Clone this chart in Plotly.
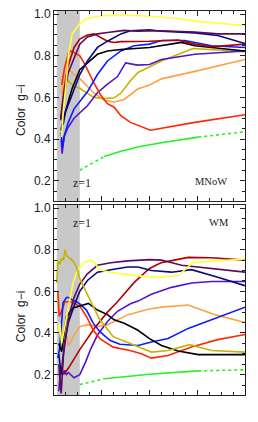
import plotly.graph_objects as go

# ---------------- data ----------------
# x axis: arbitrary time-like coordinate 0..4 (no tick labels shown)
band_x = [0.06, 0.54]  # shaded region (z > 1)

# --- top panel (MNoW) ---
t_yellow_x = [0.16, 0.2, 0.25, 0.3, 0.38, 0.54, 0.7, 1.05, 1.5, 2.0, 2.5, 3.0, 4.0]
t_yellow_y = [0.41, 0.55, 0.66, 0.80, 0.905, 0.954, 0.98, 0.993, 0.996, 0.99, 0.98, 0.965, 0.945]

t_purple_x = [0.14, 0.2, 0.3, 0.42, 0.54, 0.7, 0.91, 1.12, 1.47, 1.75, 2.0, 2.25, 2.95, 3.43, 4.0]
t_purple_y = [0.49, 0.60, 0.72, 0.79, 0.856, 0.89, 0.905, 0.912, 0.922, 0.918, 0.92, 0.92, 0.914, 0.905, 0.905]

t_navy_x = [0.15, 0.2, 0.24, 0.42, 0.54, 0.7, 0.91, 1.12, 1.4, 1.6, 2.0, 2.25, 2.95, 3.43, 4.0]
t_navy_y = [0.45, 0.48, 0.53, 0.64, 0.71, 0.775, 0.84, 0.87, 0.905, 0.92, 0.925, 0.918, 0.91, 0.897, 0.859]

t_darkred_x = [0.14, 0.2, 0.28, 0.42, 0.54, 0.7, 0.84, 0.98, 1.12, 1.26, 1.4, 2.0, 2.6, 2.95, 3.3, 4.0]
t_darkred_y = [0.50, 0.62, 0.74, 0.84, 0.88, 0.90, 0.905, 0.889, 0.87, 0.864, 0.868, 0.87, 0.876, 0.856, 0.843, 0.856]

t_black_x = [0.15, 0.2, 0.3, 0.38, 0.54, 0.7, 0.91, 1.12, 1.4, 2.0, 2.25, 2.67, 2.95, 4.0]
t_black_y = [0.44, 0.50, 0.58, 0.643, 0.733, 0.766, 0.807, 0.823, 0.83, 0.84, 0.848, 0.864, 0.848, 0.823]

t_blue_x = [0.15, 0.18, 0.22, 0.3, 0.42, 0.54, 0.7, 0.91, 1.12, 1.4, 1.68, 2.0, 2.25, 2.74, 3.3, 4.0]
t_blue_y = [0.43, 0.36, 0.42, 0.48, 0.545, 0.578, 0.627, 0.71, 0.775, 0.823, 0.848, 0.856, 0.873, 0.873, 0.848, 0.84]

t_violet_x = [0.15, 0.17, 0.21, 0.28, 0.42, 0.56, 0.7, 0.9, 1.1, 1.33, 1.5, 1.75, 2.0, 2.25, 2.95, 4.0]
t_violet_y = [0.40, 0.33, 0.41, 0.45, 0.50, 0.53, 0.56, 0.62, 0.66, 0.70, 0.766, 0.755, 0.758, 0.782, 0.807, 0.823]

t_olive_x = [0.2, 0.28, 0.42, 0.54, 0.7, 0.84, 1.05, 1.26, 1.4, 1.6, 1.76, 2.25, 2.91, 4.0]
t_olive_y = [0.64, 0.685, 0.652, 0.644, 0.619, 0.60, 0.594, 0.598, 0.62, 0.68, 0.72, 0.775, 0.835, 0.82]

t_orange_x = [0.16, 0.22, 0.31, 0.42, 0.54, 0.7, 0.84, 1.05, 1.26, 1.47, 1.75, 2.0, 2.25, 2.95, 4.0]
t_orange_y = [0.62, 0.70, 0.733, 0.71, 0.69, 0.65, 0.62, 0.586, 0.578, 0.59, 0.64, 0.66, 0.689, 0.725, 0.782]

t_red_x = [0.16, 0.22, 0.3, 0.35, 0.42, 0.54, 0.63, 0.7, 0.84, 0.98, 1.12, 1.26, 1.4, 1.6, 2.02, 2.95, 4.0]
t_red_y = [0.66, 0.74, 0.81, 0.823, 0.815, 0.80, 0.766, 0.733, 0.668, 0.61, 0.57, 0.553, 0.512, 0.48, 0.442, 0.48, 0.517]

t_green_x = [0.54, 0.8, 1.05, 1.4, 1.75, 2.0, 2.25, 3.02, 4.0]
t_green_y = [0.25, 0.285, 0.316, 0.341, 0.362, 0.373, 0.382, 0.409, 0.435]
t_green_solid = (2, 7)  # index range drawn solid; rest dotted

# --- bottom panel (WM) ---
b_yellow_x = [0.08, 0.12, 0.16, 0.2, 0.27, 0.4, 0.49, 0.63, 0.77, 0.87, 0.94, 1.19, 1.54, 2.0, 2.25, 2.6, 2.91, 4.0]
b_yellow_y = [0.40, 0.45, 0.35, 0.40, 0.48, 0.643, 0.70, 0.74, 0.75, 0.733, 0.704, 0.692, 0.68, 0.668, 0.668, 0.676, 0.738, 0.755]

b_olive_x = [0.06, 0.08, 0.12, 0.16, 0.2, 0.23, 0.27, 0.32, 0.4, 0.47, 0.54, 0.68, 0.82, 0.96, 1.24, 1.59, 2.04, 2.39, 2.84, 3.3, 4.0]
b_olive_y = [0.64, 0.75, 0.73, 0.76, 0.75, 0.80, 0.77, 0.76, 0.745, 0.717, 0.66, 0.594, 0.529, 0.463, 0.382, 0.35, 0.308, 0.316, 0.344, 0.316, 0.308]

b_purple_x = [0.1, 0.15, 0.2, 0.3, 0.42, 0.54, 0.7, 0.91, 1.19, 1.54, 2.0, 2.25, 2.67, 3.3, 4.0]
b_purple_y = [0.25, 0.11, 0.30, 0.47, 0.57, 0.635, 0.684, 0.725, 0.737, 0.746, 0.752, 0.75, 0.725, 0.709, 0.692]

b_navy_x = [0.1, 0.15, 0.22, 0.3, 0.42, 0.54, 0.7, 0.91, 1.19, 1.54, 1.76, 2.04, 2.46, 2.88, 3.43, 4.0]
b_navy_y = [0.30, 0.20, 0.35, 0.45, 0.53, 0.60, 0.652, 0.692, 0.704, 0.717, 0.717, 0.70, 0.692, 0.704, 0.668, 0.627]

b_darkred_x = [0.2, 0.3, 0.54, 0.84, 1.12, 1.33, 1.68, 2.0, 2.25, 2.81, 3.3, 4.0]
b_darkred_y = [0.20, 0.23, 0.32, 0.42, 0.50, 0.55, 0.643, 0.71, 0.738, 0.763, 0.761, 0.75]

b_black_x = [0.1, 0.16, 0.26, 0.4, 0.54, 0.72, 0.91, 1.12, 1.26, 1.47, 1.75, 2.0, 2.25, 2.6, 3.02, 4.0]
b_black_y = [0.35, 0.31, 0.48, 0.52, 0.53, 0.542, 0.51, 0.488, 0.463, 0.447, 0.414, 0.373, 0.34, 0.313, 0.296, 0.296]

b_blue_x = [0.08, 0.12, 0.19, 0.26, 0.31, 0.37, 0.47, 0.54, 0.68, 0.82, 0.96, 1.17, 1.38, 1.59, 1.76, 2.04, 2.39, 2.81, 3.37, 4.0]
b_blue_y = [0.28, 0.33, 0.545, 0.57, 0.57, 0.56, 0.55, 0.54, 0.51, 0.447, 0.406, 0.365, 0.346, 0.344, 0.34, 0.357, 0.373, 0.422, 0.47, 0.524]

b_red_x = [0.08, 0.11, 0.15, 0.23, 0.35, 0.54, 0.68, 0.82, 0.96, 1.24, 1.59, 1.83, 2.04, 2.39, 2.88, 3.43, 4.0]
b_red_y = [0.60, 0.48, 0.50, 0.55, 0.55, 0.529, 0.48, 0.414, 0.373, 0.332, 0.316, 0.30, 0.279, 0.292, 0.333, 0.368, 0.393]

b_orange_x = [0.12, 0.18, 0.24, 0.31, 0.42, 0.54, 0.7, 0.91, 1.12, 1.33, 1.55, 1.82, 2.0, 2.25, 2.81, 3.37, 4.0]
b_orange_y = [0.45, 0.38, 0.40, 0.34, 0.39, 0.43, 0.44, 0.43, 0.44, 0.463, 0.488, 0.504, 0.515, 0.524, 0.534, 0.488, 0.45]

b_violet_x = [0.1, 0.14, 0.18, 0.22, 0.26, 0.3, 0.42, 0.54, 0.66, 0.77, 0.91, 1.12, 1.33, 1.6, 1.76, 2.04, 2.46, 2.88, 3.3, 4.0]
b_violet_y = [0.12, 0.22, 0.20, 0.22, 0.20, 0.21, 0.185, 0.20, 0.26, 0.324, 0.39, 0.455, 0.504, 0.54, 0.553, 0.586, 0.619, 0.64, 0.647, 0.647]

b_green_x = [0.54, 1.05, 2.0, 3.02, 4.0]
b_green_y = [0.152, 0.18, 0.202, 0.218, 0.223]
b_green_solid = (1, 3)

y_ticks = [0.2, 0.4, 0.6, 0.8, 1.0]
y_ticklabels = ["0.2", "0.4", "0.6", "0.8", "1.0"]

colors = {
    "yellow": "#ffff3c", "purple": "#5c0a5c", "navy": "#0a0a78", "darkred": "#b40000",
    "black": "#000000", "blue": "#0a1eff", "violet": "#5014d2", "olive": "#c3b400",
    "orange": "#ffa046", "red": "#ff2800", "green": "#28f028",
}

# ---------------- figure ----------------
fig = go.Figure()
LW = 1.6

def add(x, y, color, ax, dash="solid"):
    fig.add_trace(go.Scatter(x=x, y=y, mode="lines", xaxis=ax[0], yaxis=ax[1],
                             line=dict(color=color, width=LW, dash=dash),
                             hoverinfo="skip", showlegend=False))

def add_green(x, y, seg, ax):
    i0, i1 = seg
    add(x[:i0 + 1], y[:i0 + 1], colors["green"], ax, "dot")
    add(x[i0:i1 + 1], y[i0:i1 + 1], colors["green"], ax)
    add(x[i1:], y[i1:], colors["green"], ax, "dot")

top_ax = ("x", "y")
bot_ax = ("x2", "y2")

add_green(t_green_x, t_green_y, t_green_solid, top_ax)
for nm, xs, ys in [("orange", t_orange_x, t_orange_y), ("olive", t_olive_x, t_olive_y),
                   ("violet", t_violet_x, t_violet_y), ("red", t_red_x, t_red_y),
                   ("blue", t_blue_x, t_blue_y), ("black", t_black_x, t_black_y),
                   ("darkred", t_darkred_x, t_darkred_y), ("navy", t_navy_x, t_navy_y),
                   ("purple", t_purple_x, t_purple_y), ("yellow", t_yellow_x, t_yellow_y)]:
    add(xs, ys, colors[nm], top_ax)

add_green(b_green_x, b_green_y, b_green_solid, bot_ax)
for nm, xs, ys in [("orange", b_orange_x, b_orange_y), ("violet", b_violet_x, b_violet_y),
                   ("darkred", b_darkred_x, b_darkred_y), ("red", b_red_x, b_red_y),
                   ("blue", b_blue_x, b_blue_y), ("black", b_black_x, b_black_y),
                   ("navy", b_navy_x, b_navy_y), ("purple", b_purple_x, b_purple_y),
                   ("yellow", b_yellow_x, b_yellow_y), ("olive", b_olive_x, b_olive_y)]:
    add(xs, ys, colors[nm], bot_ax)

shapes = []
for xr, yr in [("x", "y domain"), ("x2", "y2 domain")]:
    shapes.append(dict(type="rect", xref=xr, yref=yr, x0=band_x[0], x1=band_x[1], y0=0, y1=1,
                       fillcolor="#c8c8c8", line=dict(width=0), layer="below"))

common = dict(showline=True, linecolor="#222", linewidth=1, mirror="ticks", ticks="inside",
              ticklen=5, tickwidth=1, tickcolor="#222", showgrid=False, zeroline=False,
              automargin=False)
xax = dict(common, range=[0, 4], dtick=1, tick0=0, showticklabels=False,
           minor=dict(ticks="inside", ticklen=3, dtick=0.25, tick0=0, tickcolor="#222"))
yax = dict(common, range=[0.102, 1.015], tickvals=y_ticks, ticktext=y_ticklabels,
           ticklabeloverflow="allow",
           tickfont=dict(family="Liberation Sans", size=12, color="#222"),
           minor=dict(ticks="inside", ticklen=3, dtick=0.05, tick0=0, tickcolor="#222"))

top_dom = [0.505, 1.0]
bot_dom = [0.0, 0.495]

serif = dict(family="Liberation Serif", size=12, color="#222")
sans = dict(family="Liberation Sans", size=12, color="#222")
base = dict(xref="paper", yref="paper", showarrow=False, xanchor="center", yanchor="middle")
ann = [
    dict(base, text="z=1", x=0.147, y=0.553, font=serif),
    dict(base, text="z=1", x=0.147, y=0.449, font=serif),
    dict(base, text="MNoW", x=0.822, y=0.556, font=dict(serif, size=10.5)),
    dict(base, text="WM", x=0.864, y=0.449, font=dict(serif, size=10.5)),
    dict(base, text="Color  g−i", x=-0.173, y=0.742, textangle=-90, font=sans),
    dict(base, text="Color  g−i", x=-0.173, y=0.205, textangle=-90, font=sans),
]

# page body has an 8px default margin; figure is sized/offset to compensate
fig.update_layout(
    template="none",
    width=250, height=414,
    margin=dict(l=46, r=13, t=3, b=27, autoexpand=False),
    paper_bgcolor="white", plot_bgcolor="white",
    xaxis=dict(xax, domain=[0, 1], anchor="y"),
    yaxis=dict(yax, domain=top_dom, anchor="x"),
    xaxis2=dict(xax, domain=[0, 1], anchor="y2"),
    yaxis2=dict(yax, domain=bot_dom, anchor="x2"),
    shapes=shapes, annotations=ann, showlegend=False,
)

fig.write_html("out.html")
